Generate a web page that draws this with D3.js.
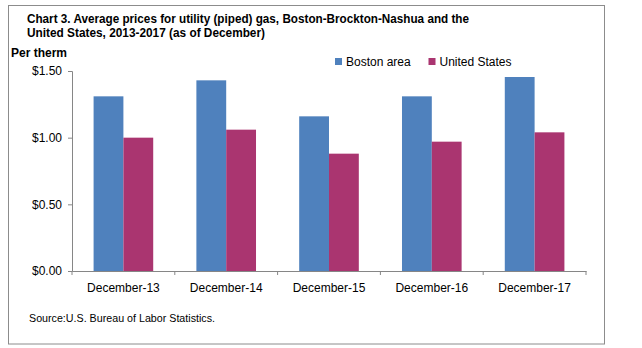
<!DOCTYPE html>
<html>
<head>
<meta charset="utf-8">
<script src="https://cdn.jsdelivr.net/npm/d3@7"></script>
<style>
  body { margin: 0; background: #fff; }
  svg { display: block; font-family: "Liberation Sans", Arial, sans-serif; }
</style>
</head>
<body>
<svg width="642" height="348"></svg>
<script>
var categories = ["December-13", "December-14", "December-15", "December-16", "December-17"];
var seriesNames = ["Boston area", "United States"];
var boston = [1.31, 1.43, 1.16, 1.31, 1.455];
var unitedStates = [1.00, 1.06, 0.88, 0.97, 1.04];
var yTicks = [0, 0.5, 1.0, 1.5];

var colors = ["#4f81bd", "#aa3570"];
var axisColor = "#868686";

var svg = d3.select("svg"),
    margin = {top: 71, left: 72, right: 56, bottom: 77},
    width = +svg.attr("width") - margin.left - margin.right,
    height = +svg.attr("height") - margin.top - margin.bottom,
    g = svg.append("g").attr("transform", "translate(" + margin.left + "," + margin.top + ")");

// outer frame
svg.append("rect")
    .attr("x", 8.5).attr("y", 5.5)
    .attr("width", 596).attr("height", 338.5)
    .attr("fill", "none")
    .attr("stroke", "#8c8c8c");

// title
var title = svg.append("g").style("font-weight", "bold").style("font-size", "12.5px").attr("fill", "#000");
title.append("text").attr("x", 27).attr("y", 23)
    .attr("textLength", 442).attr("lengthAdjust", "spacingAndGlyphs")
    .text("Chart 3. Average prices for utility (piped) gas, Boston-Brockton-Nashua and the");
title.append("text").attr("x", 27).attr("y", 37)
    .attr("textLength", 238).attr("lengthAdjust", "spacingAndGlyphs")
    .text("United States, 2013-2017 (as of December)");

svg.append("text")
    .attr("x", 11).attr("y", 57)
    .style("font-size", "12px").style("font-weight", "bold")
    .text("Per therm");

var x = d3.scaleBand()
    .domain(categories)
    .range([0, width])
    .paddingInner(0.42)
    .paddingOuter(0.21);

var x1 = d3.scaleBand()
    .domain(seriesNames)
    .range([0, x.bandwidth()]);

var y = d3.scaleLinear()
    .domain([0, 1.5])
    .range([height, 0]);

var data = categories.map(function(c, i) {
  return {cat: c, values: [boston[i], unitedStates[i]]};
});

// bars
var grp = g.selectAll(".grp")
  .data(data)
  .enter().append("g")
    .attr("class", "grp")
    .attr("transform", function(d) { return "translate(" + x(d.cat) + ",0)"; });

grp.selectAll("rect")
  .data(function(d) { return d.values.map(function(v, j) { return {key: seriesNames[j], value: v, j: j}; }); })
  .enter().append("rect")
    .attr("x", function(d) { return x1(d.key); })
    .attr("y", function(d) { return y(d.value); })
    .attr("width", x1.bandwidth())
    .attr("height", function(d) { return height - y(d.value); })
    .attr("fill", function(d) { return colors[d.j]; });

// y axis
var yAxis = g.append("g")
    .call(d3.axisLeft(y).tickValues(yTicks).tickSize(4).tickPadding(6)
      .tickFormat(function(d) { return "$" + d3.format(".2f")(d); }));

// x axis
var xAxis = g.append("g")
    .attr("transform", "translate(0," + height + ")")
    .call(d3.axisBottom(x).tickSize(0).tickPadding(12));

// boundary ticks between categories
var gap = (x.step() - x.bandwidth()) / 2;
var bounds = categories.map(function(c) { return x(c) - gap; }).concat([x(categories[categories.length - 1]) + x.bandwidth() + gap]);
xAxis.selectAll(".bound")
  .data(bounds)
  .enter().append("line")
    .attr("class", "bound")
    .attr("x1", function(d) { return d; })
    .attr("x2", function(d) { return d; })
    .attr("y1", 0).attr("y2", 4);

[yAxis, xAxis].forEach(function(a) {
  a.selectAll("path.domain").attr("stroke", axisColor);
  a.selectAll("line").attr("stroke", axisColor);
  a.selectAll("text").attr("fill", "#000").style("font-size", "12px")
      .style("font-family", "'Liberation Sans', Arial, sans-serif");
});

// legend
var legend = svg.append("g").attr("transform", "translate(335,58)");
var li = legend.selectAll(".li")
  .data(seriesNames)
  .enter().append("g")
    .attr("class", "li")
    .attr("transform", function(d, i) { return "translate(" + [0, 93.5][i] + ",0)"; });
li.append("rect").attr("width", 7).attr("height", 7).attr("fill", function(d, i) { return colors[i]; });
li.append("text").attr("x", 11).attr("y", 7.7).style("font-size", "12px").text(function(d) { return d; });

svg.append("text")
    .attr("x", 29).attr("y", 322)
    .style("font-size", "11px")
    .attr("textLength", 186).attr("lengthAdjust", "spacingAndGlyphs")
    .text("Source:U.S. Bureau of Labor Statistics.");
</script>
</body>
</html>
